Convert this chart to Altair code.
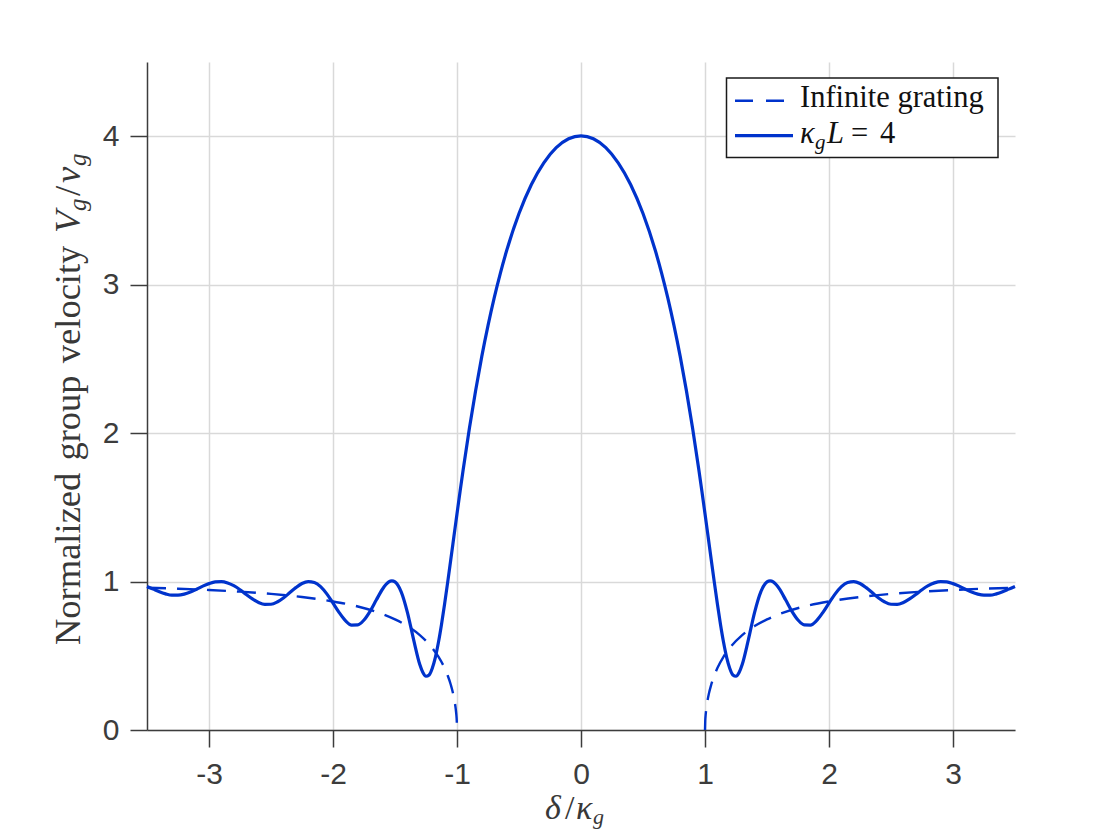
import altair as alt
import pandas as pd

# ---- data (finite grating, kappa_g L = 4), positive side; curve is symmetric
delta_fin = [0.0, 0.1, 0.2, 0.3, 0.4, 0.5, 0.6, 0.65, 0.7, 0.75, 0.8, 0.85, 0.9, 0.95, 0.975, 1.0,
             1.025, 1.05, 1.075, 1.1, 1.125, 1.15, 1.175, 1.2, 1.225, 1.25, 1.275, 1.3,
             1.35, 1.4, 1.45, 1.5, 1.525, 1.55, 1.575, 1.6,
             1.65, 1.7, 1.75, 1.8, 1.85, 1.9, 1.95, 2.0, 2.05, 2.1, 2.15, 2.2, 2.25, 2.3, 2.35,
             2.4, 2.45, 2.5, 2.55, 2.6, 2.65, 2.7, 2.75, 2.8, 2.85, 2.9, 2.95, 3.0, 3.05, 3.1,
             3.15, 3.2, 3.25, 3.3, 3.35, 3.4, 3.45, 3.5]
vg_fin = [4.003, 3.983, 3.923, 3.821, 3.675, 3.479, 3.228, 3.078, 2.911, 2.724, 2.517, 2.286, 2.032, 1.755, 1.608, 1.457,
          1.303, 1.149, 0.996, 0.849, 0.711, 0.589, 0.488, 0.414, 0.371, 0.362, 0.387, 0.441,
          0.609, 0.793, 0.931, 0.998, 1.005, 0.998, 0.978, 0.950,
          0.877, 0.801, 0.741, 0.708, 0.707, 0.737, 0.791, 0.855, 0.917, 0.966, 0.994, 1.000, 0.987, 0.959, 0.924,
          0.889, 0.862, 0.847, 0.846, 0.859, 0.883, 0.913, 0.945, 0.972, 0.991, 1.000, 0.998, 0.986, 0.969, 0.948,
          0.929, 0.915, 0.908, 0.908, 0.917, 0.931, 0.949, 0.967]

# ---- infinite grating (dashed), |delta| >= 1
delta_inf = [1.0, 1.002, 1.005, 1.01, 1.02, 1.03, 1.05, 1.075, 1.1, 1.15, 1.2, 1.3, 1.4, 1.5,
             1.6, 1.8, 2.0, 2.25, 2.5, 2.75, 3.0, 3.25, 3.5]
vg_inf = [0.0, 0.063, 0.100, 0.140, 0.197, 0.240, 0.305, 0.367, 0.417, 0.494, 0.553, 0.639, 0.700, 0.745,
          0.781, 0.832, 0.866, 0.896, 0.917, 0.932, 0.943, 0.952, 0.958]

x_ticks = [-3, -2, -1, 0, 1, 2, 3]
y_ticks = [0, 1, 2, 3, 4]

BLUE = "#0033cc"
AX = "#3c3c3c"
SERIF = "Liberation Serif"
SANS = "Liberation Sans"

fin_x = [-d for d in reversed(delta_fin[1:])] + delta_fin
fin_y = list(reversed(vg_fin[1:])) + vg_fin
df_fin = pd.DataFrame({"x": fin_x, "y": fin_y})

n = len(delta_inf)
df_inf = pd.DataFrame({
    "x": [-d for d in delta_inf] + delta_inf,
    "y": vg_inf + vg_inf,
    "side": ["left"] * n + ["right"] * n,
})

xscale = alt.Scale(domain=[-3.5, 3.5], nice=False, zero=False)
yscale = alt.Scale(domain=[0, 4.5], nice=False)

common_axis = dict(
    grid=True, gridColor="#d9d9d9", gridWidth=1.5,
    domainColor=AX, domainWidth=1.5,
    tickColor=AX, tickWidth=1.5, tickSize=17,
    labelFont=SANS, labelFontSize=30, labelColor=AX,
    labelExpr="'' + datum.value", title=None,
)
xaxis = alt.Axis(values=x_ticks, labelPadding=12, **common_axis)
yaxis = alt.Axis(values=y_ticks, labelPadding=11, **common_axis)

dashed = alt.Chart(df_inf).mark_line(
    color=BLUE, strokeWidth=2.4, strokeDash=[19, 11], interpolate="monotone"
).encode(
    x=alt.X("x:Q", scale=xscale, axis=xaxis),
    y=alt.Y("y:Q", scale=yscale, axis=yaxis),
    detail="side:N",
)

solid = alt.Chart(df_fin).mark_line(
    color=BLUE, strokeWidth=3.2, interpolate="monotone"
).encode(x=alt.X("x:Q", scale=xscale), y=alt.Y("y:Q", scale=yscale))


def txt(text, x, y, size, italic=False, angle=0, color="#383838", align="left"):
    kw = dict(text=text, font=SERIF, fontSize=size, color=color, align=align,
              baseline="alphabetic", angle=angle)
    if italic:
        kw["fontStyle"] = "italic"
    return alt.Chart(pd.DataFrame({"k": [0]})).mark_text(**kw).encode(
        x=alt.value(x), y=alt.value(y))


# y-axis title: "Normalized group velocity V_g/v_g" (rotated, reads bottom to top)
yb = -67
ytitle = [
    txt("Normalized\u2004group\u2004velocity", yb, 583, 36.5, angle=270),
    txt("V", yb, 171, 36.5, italic=True, angle=270),
    txt("g", yb + 6, 149, 25, italic=True, angle=270),
    txt("/", yb, 134, 36.5, angle=270),
    txt("v", yb, 121, 36.5, italic=True, angle=270),
    txt("g", yb + 6, 104, 25, italic=True, angle=270),
]

# x-axis title: delta / kappa_g
xtitle = [
    txt("\u03b4", 398, 757, 34, italic=True),
    txt("/", 418, 757, 34),
    txt("\u03ba", 429, 757, 34, italic=True),
    txt("g", 446, 762, 22, italic=True),
]

# legend box
legend_box = alt.Chart(pd.DataFrame({"k": [0]})).mark_rect(
    fill="white", stroke="#1a1a1a", strokeWidth=1.5
).encode(x=alt.value(579.5), x2=alt.value(851), y=alt.value(16), y2=alt.value(95.5))
leg_dash = alt.Chart(pd.DataFrame({"k": [0]})).mark_rule(
    color=BLUE, strokeWidth=2.4, strokeDash=[18, 13]
).encode(x=alt.value(588), x2=alt.value(638), y=alt.value(38.7))
leg_solid = alt.Chart(pd.DataFrame({"k": [0]})).mark_rule(
    color=BLUE, strokeWidth=3.2
).encode(x=alt.value(588), x2=alt.value(646), y=alt.value(73.7))
leg_text = [
    txt("Infinite grating", 653, 45, 30.5, color="#111111"),
    txt("\u03ba", 653, 80.7, 30.5, italic=True, color="#111111"),
    txt("g", 668, 86.5, 21, italic=True, color="#111111"),
    txt("L", 680, 80.7, 30.5, italic=True, color="#111111"),
    txt("=", 704, 80.7, 30.5, color="#111111"),
    txt("4", 733, 80.7, 30.5, color="#111111"),
]

chart = alt.layer(
    dashed, solid, legend_box, leg_dash, leg_solid, *leg_text, *ytitle, *xtitle
).properties(
    width=868, height=668,
    autosize=alt.AutoSizeParams(type="none"),
    padding={"left": 139, "top": 54, "right": 97, "bottom": 102},
    background="white",
).configure_view(stroke="transparent")

chart.save("out.html", embed_options={"renderer": "svg", "actions": False})
